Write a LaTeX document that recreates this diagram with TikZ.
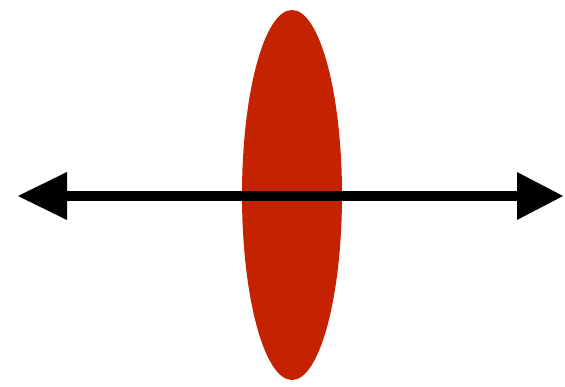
\documentclass[tikz,border=0pt]{standalone}
\usetikzlibrary{arrows.meta}
\definecolor{lensred}{RGB}{196,34,0}
\tikzset{
  lens/.style={fill=lensred},
  axis/.style={line width=10pt,{Triangle[length=49pt,width=48pt,line width=0pt]}-{Triangle[length=46pt,width=48pt,line width=0pt]}}
}
\begin{document}
\begin{tikzpicture}[x=1pt,y=1pt]
\useasboundingbox (0,0) rectangle (565,387);
\fill[lens] (292,192) ellipse (50 and 185);
\coordinate (L) at (18,191);
\coordinate (R) at (563,191);
\draw[axis] (L) -- (R);
\end{tikzpicture}
\end{document}
